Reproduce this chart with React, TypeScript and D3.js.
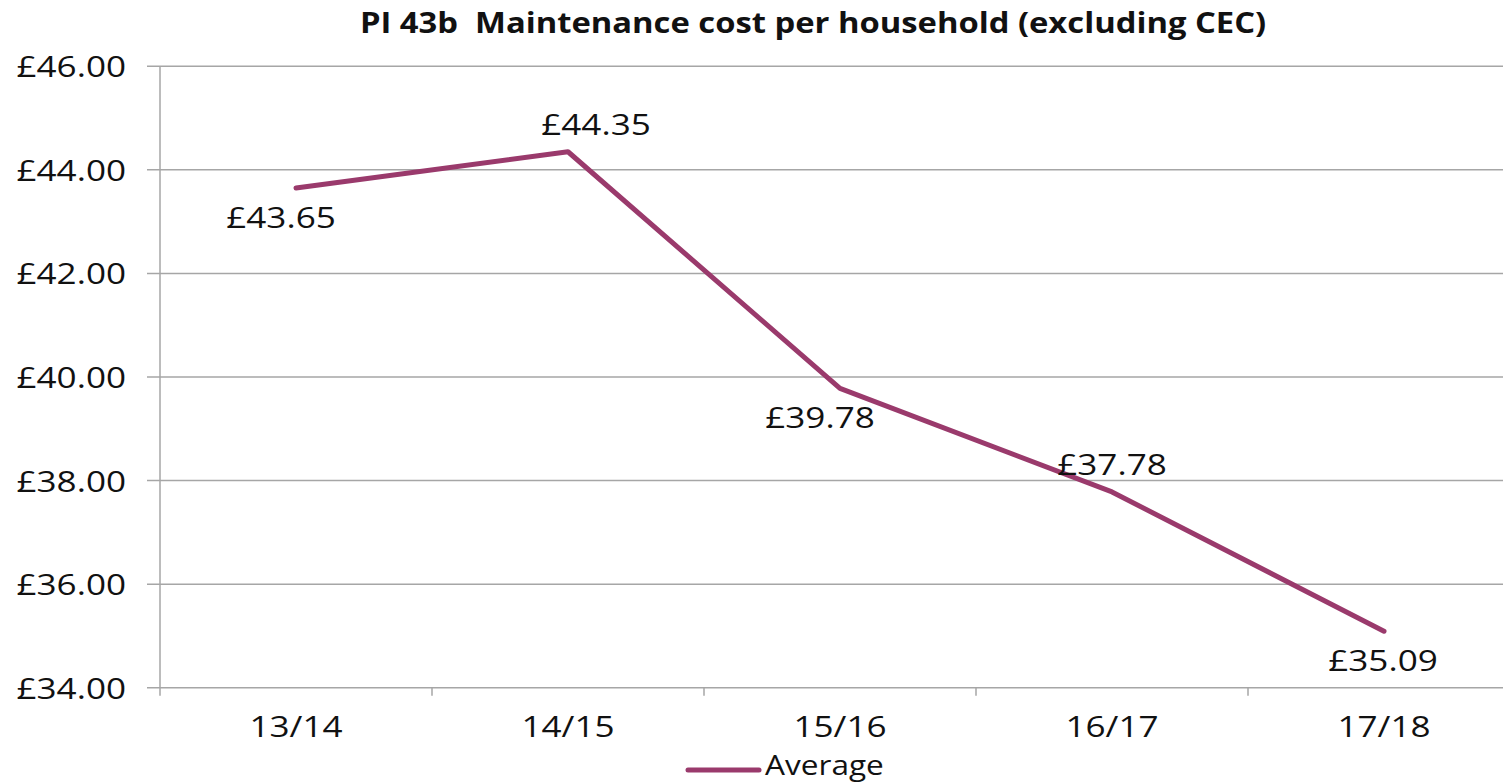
import React from "react";
import * as d3 from "d3";

const title = "PI 43b  Maintenance cost per household (excluding CEC)";
const categories = ["13/14", "14/15", "15/16", "16/17", "17/18"];
const averageValues = [43.65, 44.35, 39.78, 37.78, 35.09];
const valueLabels = ["£43.65", "£44.35", "£39.78", "£37.78", "£35.09"];
const labelSides = ["below", "above", "below", "above", "below"];
const yTicks = [34, 36, 38, 40, 42, 44, 46];
const seriesName = "Average";

const W = 1503;
const H = 784;
const M = { left: 160, right: 1520, top: 66.3, bottom: 687.7 };
const FONT = "'Open Sans', 'Noto Sans', sans-serif";
const LINE_COLOR = "#9a3a6c";
const GRID = "#a6a6a6";
const SX = 1.17;

type TProps = {
  x: number;
  y: number;
  anchor?: "start" | "middle" | "end";
  size: number;
  bold?: boolean;
  children: React.ReactNode;
};

function T({ x, y, anchor = "start", size, bold, children }: TProps) {
  return (
    <text
      transform={`translate(${x},${y}) scale(${SX},1)`}
      textAnchor={anchor}
      fontSize={size}
      fontWeight={bold ? "bold" : "normal"}
      fill="#111"
      style={{ whiteSpace: "pre" }}
    >
      {children}
    </text>
  );
}

export default function App() {
  const x = d3.scaleBand<string>().domain(categories).range([M.left, M.right]).padding(0);
  const y = d3.scaleLinear().domain([34, 46]).range([M.bottom, M.top]);
  const cx = (c: string) => (x(c) as number) + x.bandwidth() / 2;
  const line = d3
    .line<number>()
    .x((_, i) => cx(categories[i]))
    .y((d) => y(d));
  const labelDx = [-15, 28, -20, 0, -1];

  return (
    <svg
      width={W}
      height={H}
      style={{ position: "absolute", left: 0, top: 0, background: "#fff" }}
      fontFamily={FONT}
    >
      <rect x={0} y={0} width={W} height={H} fill="#fff" />
      <T x={813} y={33} anchor="middle" size={28} bold>
        {title}
      </T>
      {yTicks.map((t) => (
        <g key={t}>
          <line x1={147} x2={W} y1={y(t)} y2={y(t)} stroke={GRID} strokeWidth={1.5} />
          <T x={126} y={y(t) + 11} anchor="end" size={30}>
            {"£" + t.toFixed(2)}
          </T>
        </g>
      ))}
      <line x1={M.left} x2={M.left} y1={M.top} y2={M.bottom + 8} stroke={GRID} strokeWidth={1.5} />
      {categories.map((c, i) => (
        <g key={c}>
          {i > 0 && (
            <line
              x1={x(c) as number}
              x2={x(c) as number}
              y1={M.bottom}
              y2={M.bottom + 8}
              stroke={GRID}
              strokeWidth={1.5}
            />
          )}
          <T x={cx(c)} y={737} anchor="middle" size={30}>
            {c}
          </T>
        </g>
      ))}
      <path
        d={line(averageValues) || ""}
        fill="none"
        stroke={LINE_COLOR}
        strokeWidth={5}
        strokeLinejoin="round"
        strokeLinecap="round"
      />
      {averageValues.map((v, i) => (
        <T
          key={i}
          x={cx(categories[i]) + labelDx[i]}
          y={labelSides[i] === "above" ? y(v) - 17 : y(v) + 40}
          anchor="middle"
          size={30}
        >
          {valueLabels[i]}
        </T>
      ))}
      <line x1={688} x2={759} y1={770} y2={770} stroke={LINE_COLOR} strokeWidth={5} strokeLinecap="round" />
      <T x={765} y={775} size={27}>
        {seriesName}
      </T>
    </svg>
  );
}
